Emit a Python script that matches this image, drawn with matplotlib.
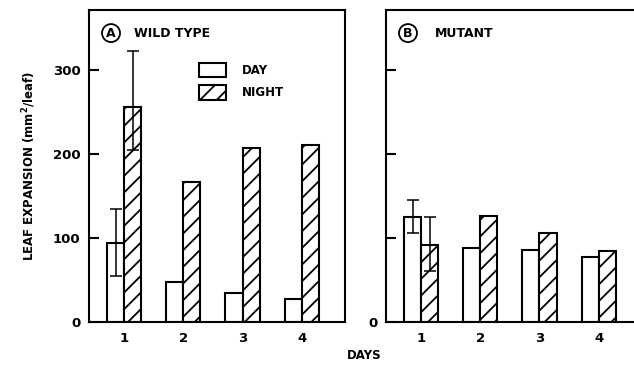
import numpy as np
import matplotlib
matplotlib.use("Agg")
import matplotlib.pyplot as plt

plt.rcParams['font.family'] = ['DejaVu Sans']
plt.rcParams['font.weight'] = 'bold'
plt.rcParams['hatch.linewidth'] = 1.3

days = [1, 2, 3, 4]
day_labels = ['1', '2', '3', '4']

# panel A, wild type
wt_day = [94, 47, 35, 27]
wt_night = [256, 166, 207, 210]
wt_day_lo = [39, 0, 0, 0]
wt_day_hi = [40, 0, 0, 0]
wt_night_lo = [52, 0, 0, 0]
wt_night_hi = [66, 0, 0, 0]

# panel B, mutant
mut_day = [125, 88, 86, 77]
mut_night = [92, 126, 106, 84]
mut_day_lo = [19, 0, 0, 0]
mut_day_hi = [20, 0, 0, 0]
mut_night_lo = [31, 0, 0, 0]
mut_night_hi = [33, 0, 0, 0]

yticks = [0, 100, 200, 300]

W = 0.29
x = np.array(days)

fig = plt.figure(figsize=(6.34, 3.73), dpi=100)
axA = fig.add_axes([0.1404, 0.1367, 0.4037, 0.8365])
axB = fig.add_axes([0.6088, 0.1367, 0.4037, 0.8365])


def draw(ax, d, n, dlo, dhi, nlo, nhi):
	bd = ax.bar(x - W/2, d, W, color='white', edgecolor='black', linewidth=1.5, label='DAY')
	bn = ax.bar(x + W/2, n, W, color='white', edgecolor='black', linewidth=1.5, hatch='//', label='NIGHT')
	for i in range(len(x)):
		if dhi[i] > 0:
			ax.errorbar(x[i] - W/2, d[i], yerr=[[dlo[i]], [dhi[i]]], fmt='none', ecolor='black',
				elinewidth=1.1, capsize=4, capthick=1.1, zorder=3)
		if nhi[i] > 0:
			ax.errorbar(x[i] + W/2, n[i], yerr=[[nlo[i]], [nhi[i]]], fmt='none', ecolor='black',
				elinewidth=1.1, capsize=4, capthick=1.1, zorder=3)
	ax.set_xlim(0.407, 4.73)
	ax.set_ylim(0, 371)
	ax.set_xticks(days)
	ax.set_xticklabels(day_labels, fontsize=9.5, fontweight='bold')
	ax.set_yticks(yticks)
	ax.tick_params(axis='x', length=0, pad=7)
	ax.tick_params(axis='y', direction='in', length=7, width=1.5, pad=6, labelsize=9.5)
	for s in ax.spines.values():
		s.set_linewidth(1.5)
	return bd, bn


draw(axA, wt_day, wt_night, wt_day_lo, wt_day_hi, wt_night_lo, wt_night_hi)
draw(axB, mut_day, mut_night, mut_day_lo, mut_day_hi, mut_night_lo, mut_night_hi)

axB.set_yticklabels(['0', '', '', ''])

axA.legend(loc='upper left', bbox_to_anchor=(0.43, 0.83), frameon=False, fontsize=8.5,
	handlelength=2.3, handleheight=1.5, handletextpad=1.3, labelspacing=0.65, borderpad=0, borderaxespad=0)

for ax, letter, name, tx in [(axA, 'A', 'WILD TYPE', 0.176), (axB, 'B', 'MUTANT', 0.19)]:
	ax.text(0.086, 0.926, letter, transform=ax.transAxes, ha='center', va='center', fontsize=9, fontweight='bold',
		bbox=dict(boxstyle='circle,pad=0.2', facecolor='white', edgecolor='black', linewidth=1.3))
	ax.text(tx, 0.926, name, transform=ax.transAxes, ha='left', va='center', fontsize=9, fontweight='bold')

axA.set_ylabel('LEAF EXPANSION (mm$^\\mathbf{2}$/leaf)', fontsize=8.5, fontweight='bold', labelpad=11)
fig.text(0.574, 0.047, 'DAYS', ha='center', va='center', fontsize=8.5, fontweight='bold')

fig.savefig('out.png', dpi=100)
